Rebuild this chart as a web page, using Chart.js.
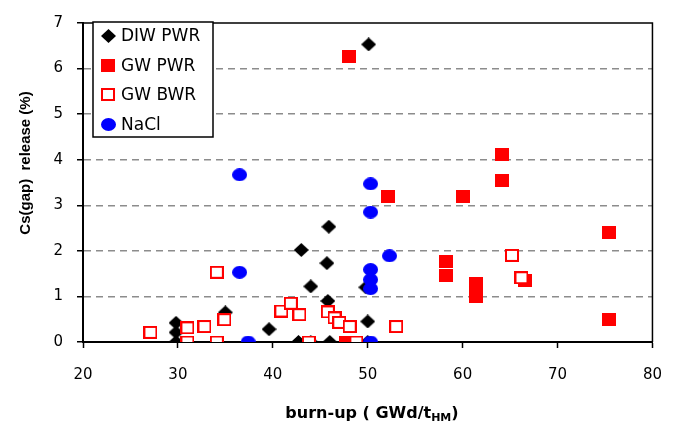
<!DOCTYPE html>
<html>
<head>
<meta charset="utf-8">
<script src="https://cdn.jsdelivr.net/npm/chart.js@4"></script>
<style>body { margin: 0; background: #fff; }</style>
</head>
<body>
<canvas id="graficoCs" width="680" height="425"></canvas>
<script>
// burn-up (GWd/tHM) -> Cs(gap) release (%)
const diwX = [29.8, 29.8, 29.8, 35.0, 39.6, 42.7, 44.0, 43.0, 44.0, 45.9, 45.7, 45.8, 46.0, 49.8, 50.0, 50.0, 50.1];
const diwY = [0, 0.21, 0.42, 0.65, 0.28, 0, 0, 2.02, 1.22, 2.53, 1.73, 0.9, 0, 1.2, 0.45, 0, 6.53];

const gwPwrX = [48.0, 52.1, 47.7, 58.2, 58.2, 60.0, 61.4, 61.4, 64.1, 64.1, 66.6, 75.4, 75.4];
const gwPwrY = [6.26, 3.2, 0, 1.77, 1.45, 3.2, 1.28, 1.0, 4.12, 3.54, 1.36, 2.41, 0.49];

const gwBwrX = [27.1, 31.0, 31.0, 32.8, 34.9, 34.1, 34.1, 40.9, 41.9, 42.8, 43.8, 45.8, 46.5, 47.0, 48.1, 48.8, 53.0, 65.2, 66.2];
const gwBwrY = [0.21, 0.31, 0, 0.34, 0.49, 1.53, 0, 0.68, 0.85, 0.6, 0, 0.66, 0.53, 0.43, 0.34, 0, 0.34, 1.9, 1.41];

const naclX = [36.5, 36.5, 37.4, 50.3, 50.3, 52.3, 50.3, 50.3, 50.3, 50.3];
const naclY = [3.67, 1.53, 0, 3.47, 2.85, 1.89, 1.59, 1.37, 1.17, 0];

const xTicks = [20, 30, 40, 50, 60, 70, 80];
const yTicks = [0, 1, 2, 3, 4, 5, 6, 7];

function pares(xs, ys) {
    return xs.map((x, i) => ({ x: x, y: ys[i] }));
}

// small canvases used as point styles (the picture is a bit stretched sideways)
function marcador(tipo) {
    const c = document.createElement('canvas');
    c.width = (tipo === 'circulo' || tipo === 'losango') ? 15 : 14;
    c.height = tipo === 'losango' ? 14 : 13;
    const g = c.getContext('2d');
    if (tipo === 'losango') {
        g.fillStyle = '#000';
        g.beginPath();
        g.moveTo(7.5, 0); g.lineTo(15, 7); g.lineTo(7.5, 14); g.lineTo(0, 7);
        g.closePath();
        g.fill();
    } else if (tipo === 'quadrado') {
        g.fillStyle = '#ff0000';
        g.fillRect(0, 0, 14, 13);
    } else if (tipo === 'vazio') {
        g.fillStyle = '#fff';
        g.fillRect(0, 0, 14, 13);
        g.strokeStyle = '#ff0000';
        g.lineWidth = 2;
        g.strokeRect(1, 1, 12, 11);
    } else {
        g.fillStyle = '#0000ff';
        g.beginPath();
        g.ellipse(7.5, 6.5, 7.5, 6.5, 0, 0, Math.PI * 2);
        g.fill();
    }
    return c;
}

// top and right frame lines
const moldura = {
    id: 'moldura',
    beforeDatasetsDraw(chart) {
        const a = chart.chartArea, ctx = chart.ctx;
        ctx.save();
        ctx.strokeStyle = '#000';
        ctx.lineWidth = 1.5;
        ctx.beginPath();
        ctx.moveTo(a.left, a.top);
        ctx.lineTo(a.right, a.top);
        ctx.lineTo(a.right, a.bottom);
        ctx.stroke();
        ctx.restore();
    }
};

// axis titles (x title has the HM subscript) and the boxed legend
const textos = {
    id: 'textos',
    afterDraw(chart) {
        const ctx = chart.ctx;
        ctx.save();
        ctx.fillStyle = '#000';
        ctx.font = 'bold 15px "Liberation Sans"';
        ctx.translate(29.5, 163);
        ctx.rotate(-Math.PI / 2);
        ctx.textAlign = 'center';
        ctx.textBaseline = 'alphabetic';
        ctx.fillText('Cs(gap)  release (%)', 0, 0);
        ctx.restore();

        ctx.save();
        ctx.fillStyle = '#000';
        ctx.textBaseline = 'alphabetic';
        const t1 = 'burn-up ( GWd/t', t2 = 'HM', t3 = ')';
        ctx.font = 'bold 16px "DejaVu Sans"';
        const w1 = ctx.measureText(t1).width, w3 = ctx.measureText(t3).width;
        ctx.font = 'bold 11px "DejaVu Sans"';
        const w2 = ctx.measureText(t2).width;
        let x = 372 - (w1 + w2 + w3) / 2;
        ctx.font = 'bold 16px "DejaVu Sans"';
        ctx.fillText(t1, x, 418);
        ctx.font = 'bold 11px "DejaVu Sans"';
        ctx.fillText(t2, x + w1, 421);
        ctx.font = 'bold 16px "DejaVu Sans"';
        ctx.fillText(t3, x + w1 + w2, 418);
        ctx.restore();

        ctx.save();
        ctx.fillStyle = '#fff';
        ctx.fillRect(93, 22, 120, 115);
        ctx.strokeStyle = '#000';
        ctx.lineWidth = 1.5;
        ctx.strokeRect(93, 22, 120, 115);
        ctx.font = '17px "DejaVu Sans"';
        ctx.textBaseline = 'middle';
        ctx.fillStyle = '#000';
        chart.data.datasets.forEach((ds, i) => {
            const y = 36 + i * 29.4;
            const m = ds.pointStyle;
            ctx.drawImage(m, Math.round(108 - m.width / 2), Math.round(y - m.height / 2));
            ctx.fillText(ds.label, 121, y + 1);
        });
        ctx.restore();
    }
};

const ctxCs = document.getElementById('graficoCs').getContext('2d');
new Chart(ctxCs, {
    type: 'scatter',
    data: {
        datasets: [
            { label: 'DIW PWR', data: pares(diwX, diwY), pointStyle: marcador('losango'), order: 4 },
            { label: 'GW PWR', data: pares(gwPwrX, gwPwrY), pointStyle: marcador('quadrado'), order: 3 },
            { label: 'GW BWR', data: pares(gwBwrX, gwBwrY), pointStyle: marcador('vazio'), order: 2 },
            { label: 'NaCl', data: pares(naclX, naclY), pointStyle: marcador('circulo'), order: 1 }
        ]
    },
    options: {
        responsive: false,
        animation: false,
        layout: { padding: { top: 14, right: 12, left: 0, bottom: 0 } },
        plugins: { legend: { display: false }, tooltip: { enabled: false } },
        scales: {
            x: {
                type: 'linear',
                min: xTicks[0],
                max: xTicks[xTicks.length - 1],
                afterBuildTicks: (s) => { s.ticks = xTicks.map(v => ({ value: v })); },
                afterFit: (s) => { s.height = 83; },
                grid: { drawOnChartArea: false, tickLength: 6, tickColor: '#000', tickWidth: 1.5 },
                border: { color: '#000', width: 2 },
                ticks: { color: '#000', padding: 18, font: { family: 'DejaVu Sans', size: 15 } }
            },
            y: {
                min: yTicks[0],
                max: yTicks[yTicks.length - 1],
                afterBuildTicks: (s) => { s.ticks = yTicks.map(v => ({ value: v })); },
                afterFit: (s) => { s.width = 83; },
                grid: {
                    color: (c) => (c.tick && (c.tick.value === 0 || c.tick.value === 7)) ? 'rgba(0,0,0,0)' : '#8c8c8c',
                    lineWidth: 1.5,
                    tickLength: 6,
                    tickColor: '#000',
                    tickWidth: 1.5,
                    tickBorderDash: []
                },
                border: { color: '#000', width: 2, dash: [7, 5] },
                ticks: { color: '#000', padding: 14, font: { family: 'DejaVu Sans', size: 15 } }
            }
        }
    },
    plugins: [moldura, textos]
});
</script>
</body>
</html>
